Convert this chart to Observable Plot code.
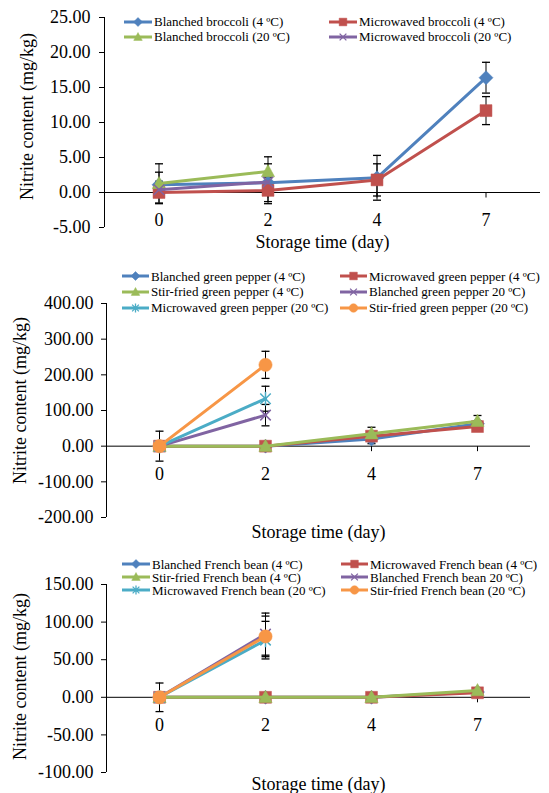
<!DOCTYPE html>
<html><head><meta charset="utf-8">
<script src="https://cdn.jsdelivr.net/npm/d3@7"></script>
<script src="https://cdn.jsdelivr.net/npm/@observablehq/plot@0.6"></script>
<style>
body{margin:0;background:#fff;}
#root{position:relative;width:549px;height:793px;font-family:'Liberation Serif','DejaVu Serif','Times New Roman',serif;color:#000;overflow:hidden;}
.panel{position:absolute;left:0;}
.lg{position:absolute;display:flex;align-items:center;height:14px;font-size:13px;white-space:nowrap;line-height:1;z-index:2;}
.lg span{line-height:13px;}
.lg svg{display:block;overflow:visible;}
svg text{font-family:'Liberation Serif','DejaVu Serif','Times New Roman',serif;}
</style></head><body><div id="root"></div>
<script>
// ---------- data ----------
const days = ["0", "2", "4", "7"];
const xTitle = "Storage time (day)";
const yTitle = "Nitrite content (mg/kg)";

const broccoliSeries = ["Blanched broccoli (4 ºC)", "Microwaved broccoli (4 ºC)", "Blanched broccoli (20 ºC)", "Microwaved broccoli (20 ºC)"];
const broccoliValues = [[1.1, 1.4, 2.1, 16.4], [0.0, 0.3, 1.8, 11.7], [1.3, 3.0, null, null], [0.4, 1.5, null, null]];
const broccoliErrors = [[1.8, 2.7, 3.2, 2.2], [1.6, 1.9, 2.3, 2.0], [2.8, 2.1, null, null], [1.0, 1.0, null, null]];
const broccoliTicks = [-5, 0, 5, 10, 15, 20, 25];

const pepperSeries = ["Blanched green pepper (4 ºC)", "Microwaved green pepper (4 ºC)", "Stir-fried green pepper (4 ºC)", "Blanched green pepper 20 ºC)", "Microwaved green pepper (20 ºC)", "Stir-fried green pepper (20 ºC)"];
const pepperValues = [[0, 0, 20, 63], [0, 0, 28, 55], [0, 0, 35, 70], [0, 87, null, null], [0, 133, null, null], [0, 228, null, null]];
const pepperErrors = [[0, 0, 13, 8], [0, 0, 10, 8], [0, 0, 18, 16], [0, 30, null, null], [0, 35, null, null], [42, 38, null, null]];
const pepperTicks = [-200, -100, 0, 100, 200, 300, 400];

const beanSeries = ["Blanched French bean (4 ºC)", "Microwaved French bean (4 ºC)", "Stir-fried French bean (4 ºC)", "Blanched French bean 20 ºC)", "Microwaved French bean (20 ºC)", "Stir-fried French bean (20 ºC)"];
const beanValues = [[0, 0, 0, 7], [0, 0, 0, 6], [0, 0, 0, 9], [0, 84, null, null], [0, 76, null, null], [0, 81, null, null]];
const beanErrors = [[0, 0, 0, 0], [0, 0, 0, 0], [0, 0, 0, 0], [0, 28, null, null], [0, 25, null, null], [19, 27, null, null]];
const beanTicks = [-100, -50, 0, 50, 100, 150];

// ---------- styles ----------
const FONT = "'Liberation Serif','DejaVu Serif','Times New Roman',serif";
const colors = ["#4F81BD", "#C0504D", "#9BBB59", "#8064A2", "#4BACC6", "#F79646"];
const rOf = s => Math.sqrt(s / Math.PI);
const symDiamond = {draw(c, s) { const r = rOf(s); c.moveTo(0, -r); c.lineTo(r, 0); c.lineTo(0, r); c.lineTo(-r, 0); c.closePath(); }};
const symSquare = {draw(c, s) { const h = rOf(s) * 0.85; c.rect(-h, -h, 2 * h, 2 * h); }};
const symTriangle = {draw(c, s) { const r = rOf(s); c.moveTo(0, -r); c.lineTo(r * 0.95, r * 0.75); c.lineTo(-r * 0.95, r * 0.75); c.closePath(); }};
const symTimes = {draw(c, s) { const q = rOf(s) * 0.75; c.moveTo(-q, -q); c.lineTo(q, q); c.moveTo(q, -q); c.lineTo(-q, q); }};
const symStar = {draw(c, s) { const r = rOf(s), q = r * 0.75; c.moveTo(-q, -q); c.lineTo(q, q); c.moveTo(q, -q); c.lineTo(-q, q); c.moveTo(0, -r); c.lineTo(0, r); }};
const symCircle = {draw(c, s) { const r = rOf(s) * 0.95; c.moveTo(r, 0); c.arc(0, 0, r, 0, 2 * Math.PI); }};
const symbols = [symDiamond, symSquare, symTriangle, symTimes, symStar, symCircle];
const filled = [true, true, true, false, false, true];
const symCap = {draw(c) { c.moveTo(-4, 0); c.lineTo(4, 0); }};
const symTick = {draw(c) { c.moveTo(0, 0); c.lineTo(0, 5); }};

const panels = [
  {series: broccoliSeries, values: broccoliValues, errors: broccoliErrors, ticks: broccoliTicks,
   top: 0, height: 255, mt: 17, mb: 28, ml: 104, mr: 9, tdx: -77, tdy: -6, tickPad: 9, xdy: 15,
   legRows: [21.5, 36.5], legCols: [[124, 152], [329, 357]]},
  {series: pepperSeries, values: pepperValues, errors: pepperErrors, ticks: pepperTicks,
   top: 255, height: 285, mt: 48, mb: 23, ml: 106, mr: 19, tdx: -86, tdy: -10, tickPad: 8, xdy: 15,
   legRows: [276, 291.5, 307.5], legCols: [[122, 149], [340, 367]]},
  {series: beanSeries, values: beanValues, errors: beanErrors, ticks: beanTicks,
   top: 540, height: 253, mt: 44, mb: 21, ml: 106, mr: 19, tdx: -86, tdy: -2, tickPad: 8, xdy: 12,
   legRows: [564, 577, 590], legCols: [[122, 150], [341, 368]]}
];

const root = document.getElementById("root");

panels.forEach((p) => {
  const errData = [];
  const marks = [];
  p.values.forEach((vals, s) => vals.forEach((v, i) => {
    const e = p.errors[s][i];
    if (v != null && e) errData.push({i, lo: v - e, hi: v + e});
  }));
  marks.push(Plot.ruleY([0], {stroke: "black", strokeWidth: 1}));
  marks.push(Plot.ruleX([-0.5], {stroke: "black", strokeWidth: 1}));
  marks.push(Plot.dot(days, {x: (d, i) => i, y: () => 0, symbol: symTick, stroke: "black", fill: "none", strokeWidth: 1}));
  marks.push(Plot.axisY({ticks: p.ticks, tickFormat: d => d.toFixed(2), tickSize: 5, tickPadding: p.tickPad, fontSize: 18, stroke: "black", label: null}));
  marks.push(Plot.ruleX(errData, {x: "i", y1: "lo", y2: "hi", stroke: "black", strokeWidth: 1}));
  marks.push(Plot.dot(errData, {x: "i", y: "hi", symbol: symCap, stroke: "black", fill: "none", strokeWidth: 1.3}));
  marks.push(Plot.dot(errData, {x: "i", y: "lo", symbol: symCap, stroke: "black", fill: "none", strokeWidth: 1.3}));
  p.values.forEach((vals, s) => {
    const pts = vals.map((v, i) => ({i, v})).filter(d => d.v != null);
    marks.push(Plot.line(pts, {x: "i", y: "v", stroke: colors[s], strokeWidth: 3}));
    marks.push(Plot.dot(pts, {x: "i", y: "v", symbol: symbols[s], r: 7,
      fill: filled[s] ? colors[s] : "none", stroke: colors[s], strokeWidth: filled[s] ? 0.5 : 1.5}));
  });
  marks.push(Plot.text(days, {x: (d, i) => i, y: () => 0, text: d => d, dy: 28, fontSize: 18, fill: "black"}));
  marks.push(Plot.text([xTitle], {frameAnchor: "bottom", textAnchor: "middle", dy: p.xdy, fontSize: 18, fill: "black", lineAnchor: "middle"}));
  marks.push(Plot.text([yTitle], {frameAnchor: "left", textAnchor: "middle", rotate: -90, dx: p.tdx, dy: p.tdy, fontSize: 18, fill: "black", lineAnchor: "middle"}));

  const chart = Plot.plot({
    width: 549, height: p.height,
    marginTop: p.mt, marginBottom: p.mb, marginLeft: p.ml, marginRight: p.mr,
    x: {type: "linear", domain: [-0.5, days.length - 0.5], axis: null},
    y: {domain: [p.ticks[0], p.ticks[p.ticks.length - 1]], axis: null},
    style: {fontFamily: FONT, fontSize: "18px", color: "black", background: "transparent", overflow: "visible"},
    marks
  });
  const wrap = document.createElement("div");
  wrap.className = "panel";
  wrap.style.top = p.top + "px";
  wrap.appendChild(chart);
  root.appendChild(wrap);

  // legend
  p.series.forEach((name, s) => {
    const col = p.legCols[s % 2], row = p.legRows[Math.floor(s / 2)];
    const w = col[1] - col[0];
    const item = document.createElement("div");
    item.className = "lg";
    item.style.left = col[0] + "px";
    item.style.top = (row - 7) + "px";
    const path = d3.symbol(symbols[s], Math.PI * 4.5 * 4.5)();
    item.innerHTML = `<svg width="${w}" height="14"><line x1="0" x2="${w}" y1="7" y2="7" stroke="${colors[s]}" stroke-width="3"/>` +
      `<path transform="translate(${w / 2},7)" d="${path}" fill="${filled[s] ? colors[s] : "none"}" stroke="${colors[s]}" stroke-width="${filled[s] ? 0.5 : 1.3}"/></svg>` +
      `<span style="margin-left:2px">${name}</span>`;
    root.appendChild(item);
  });
});
</script></body></html>
